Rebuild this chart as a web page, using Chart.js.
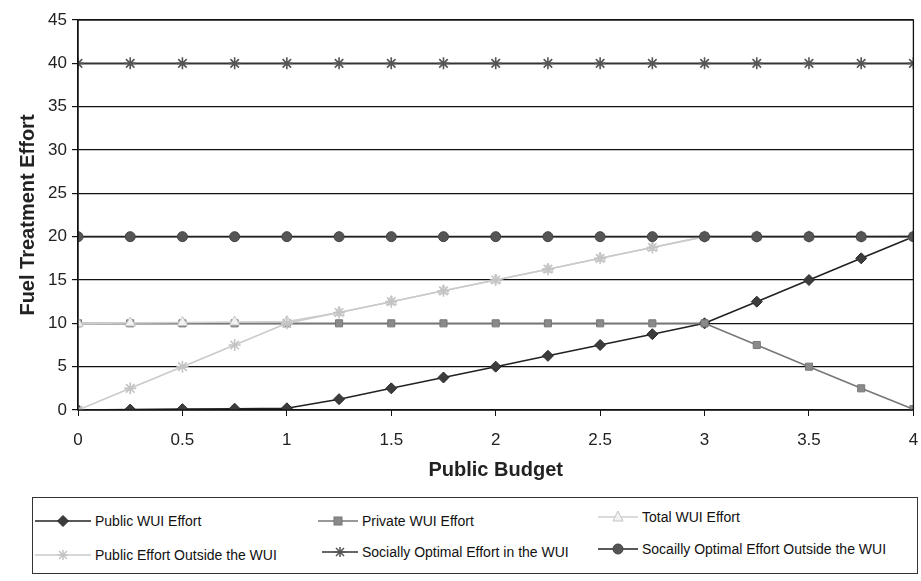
<!DOCTYPE html>
<html>
<head>
<meta charset="utf-8">
<script src="https://cdn.jsdelivr.net/npm/chart.js@4/dist/chart.umd.min.js"></script>
<style>
  html, body { margin: 0; padding: 0; background: #fff; }
  #wrap { position: relative; width: 921px; height: 581px; font-family: "Liberation Sans", Arial, sans-serif; }
  #chartBox { position: absolute; left: 0; top: 0; width: 921px; height: 490px; }
  #legend { position: absolute; left: 32px; top: 497px; width: 886px; height: 77px; border: 1px solid #333; box-sizing: border-box; }
  .item { position: absolute; display: flex; align-items: center; font-size: 14px; color: #111; white-space: nowrap; }
  .item svg { margin-right: 4px; }
</style>
</head>
<body>
<div id="wrap">
  <div id="chartBox"><canvas id="chart"></canvas></div>
  <div id="legend"></div>
</div>
<script>
// Public budget (x) and effort series
var budget         = [0, 0.25, 0.5, 0.75, 1, 1.25, 1.5, 1.75, 2, 2.25, 2.5, 2.75, 3, 3.25, 3.5, 3.75, 4];
var publicWUI      = [0, 0.05, 0.1, 0.15, 0.2, 1.25, 2.5, 3.75, 5, 6.25, 7.5, 8.75, 10, 12.5, 15, 17.5, 20];
var privateWUI     = [10, 10, 10, 10, 10, 10, 10, 10, 10, 10, 10, 10, 10, 7.5, 5, 2.5, 0.1];
var totalWUI       = [10, 10.05, 10.1, 10.15, 10.2, 11.25, 12.5, 13.75, 15, 16.25, 17.5, 18.75, 20, 20, 20, 20, 20.1];
var publicOutside  = [0, 2.5, 5, 7.5, 10, 11.25, 12.5, 13.75, 15, 16.25, 17.5, 18.75, 20, 20, 20, 20, 20];
var socialWUI      = [40, 40, 40, 40, 40, 40, 40, 40, 40, 40, 40, 40, 40, 40, 40, 40, 40];
var socialOutside  = [20, 20, 20, 20, 20, 20, 20, 20, 20, 20, 20, 20, 20, 20, 20, 20, 20];

var seriesNames = ['Public WUI Effort', 'Private WUI Effort', 'Total WUI Effort',
  'Public Effort Outside the WUI', 'Socially Optimal Effort in the WUI', 'Socailly Optimal Effort Outside the WUI'];

function pts(vals) {
  return vals.map(function(v, i) { return { x: budget[i], y: v }; });
}

// Excel draws later series on top, so give earlier ones a higher order
var styles = [
  { data: publicWUI,     line: '#222', fill: '#3c3c3c', border: '#2a2a2a', shape: 'rectRot',  r: 5.5 },
  { data: privateWUI,    line: '#777', fill: '#8a8a8a', border: '#777',    shape: 'rect',     r: 5 },
  { data: totalWUI,      line: '#cfcfcf', fill: '#f2f2f2', border: '#c4c4c4', shape: 'triangle', r: 6 },
  { data: publicOutside, line: '#cacaca', fill: '#c8c8c8', border: '#c4c4c4', shape: 'star',  r: 6 },
  { data: socialWUI,     line: '#333', fill: '#555', border: '#555',    shape: 'star',     r: 6 },
  { data: socialOutside, line: '#222', fill: '#555', border: '#444',    shape: 'circle',   r: 5 }
];

var datasets = styles.map(function(s, i) {
  return {
    label: seriesNames[i],
    data: pts(s.data),
    borderColor: s.line,
    borderWidth: 1.6,
    pointStyle: s.shape,
    pointRadius: s.r,
    pointBackgroundColor: s.fill,
    pointBorderColor: s.border,
    pointBorderWidth: s.shape === 'star' ? 1.6 : 1,
    tension: 0,
    order: 6 - i
  };
});

var frame = {
  id: 'frame',
  afterDraw: function(chart) {
    var a = chart.chartArea, ctx = chart.ctx;
    ctx.save();
    ctx.strokeStyle = '#111';
    ctx.lineWidth = 1.3;
    ctx.strokeRect(a.left, a.top, a.right - a.left, a.bottom - a.top);
    ctx.restore();
  }
};

new Chart(document.getElementById('chart'), {
  type: 'line',
  data: { datasets: datasets },
  options: {
    responsive: true,
    maintainAspectRatio: false,
    animation: false,
    layout: { padding: { left: 12, right: 4, top: 20, bottom: 0 } },
    plugins: { legend: { display: false }, tooltip: { enabled: false } },
    scales: {
      x: {
        type: 'linear', min: 0, max: 4,
        afterFit: function(s) { s.height = 80; s.paddingLeft = 0; s.paddingRight = 0; },
        ticks: { stepSize: 0.5, padding: 14, color: '#222', font: { family: 'Liberation Sans', size: 17 },
                 callback: function(v) { return String(v); } },
        grid: { drawOnChartArea: false, color: '#111', tickLength: 6 },
        border: { color: '#111', width: 1.3 },
        title: { display: true, text: 'Public Budget', color: '#222', padding: { top: 4, bottom: 8 },
                 font: { family: 'Liberation Sans', size: 20, weight: 'bold' } }
      },
      y: {
        min: 0, max: 45,
        afterFit: function(s) { s.width = 66; s.paddingTop = 0; s.paddingBottom = 0; },
        ticks: { stepSize: 5, padding: 5, color: '#222', font: { family: 'Liberation Sans', size: 17 } },
        grid: { color: '#111', lineWidth: 1.2, tickLength: 6 },
        border: { color: '#111', width: 1.3 },
        title: { display: true, text: 'Fuel Treatment Effort', color: '#222', padding: 4,
                 font: { family: 'Liberation Sans', size: 20, weight: 'bold' } }
      }
    }
  },
  plugins: [frame]
});

// legend in three columns like the original figure
function marker(s) {
  var c = 28, m = 11, r = s.r;
  var f = 'fill="' + s.fill + '" stroke="' + s.border + '" stroke-width="1"';
  if (s.shape === 'rectRot') return '<polygon points="' + c + ',' + (m - r) + ' ' + (c + r) + ',' + m + ' ' + c + ',' + (m + r) + ' ' + (c - r) + ',' + m + '" ' + f + '/>';
  if (s.shape === 'rect') return '<rect x="' + (c - 4) + '" y="' + (m - 4) + '" width="8" height="8" ' + f + '/>';
  if (s.shape === 'triangle') return '<polygon points="' + c + ',' + (m - 6) + ' ' + (c + 5) + ',' + (m + 4) + ' ' + (c - 5) + ',' + (m + 4) + '" ' + f + '/>';
  if (s.shape === 'circle') return '<circle cx="' + c + '" cy="' + m + '" r="5" ' + f + '/>';
  var st = 'stroke="' + s.border + '" stroke-width="1.5"';
  return '<path d="M' + (c - 5) + ' ' + m + 'H' + (c + 5) + 'M' + c + ' ' + (m - 5) + 'V' + (m + 5) +
    'M' + (c - 4) + ' ' + (m - 4) + 'L' + (c + 4) + ' ' + (m + 4) + 'M' + (c + 4) + ' ' + (m - 4) + 'L' + (c - 4) + ' ' + (m + 4) + '" ' + st + '/>';
}

var legendPos = [[2, 12], [285, 12], [565, 8], [2, 46], [289, 43], [565, 40]];
var legendWidths = [56, 40, 40, 56, 36, 40];
var lg = document.getElementById('legend');
styles.forEach(function(s, i) {
  var w = legendWidths[i];
  var svg = '<svg width="' + w + '" height="22" viewBox="' + (28 - w / 2) + ' 0 ' + w + ' 22">' +
    '<line x1="' + (28 - w / 2) + '" y1="11" x2="' + (28 + w / 2) + '" y2="11" stroke="' + s.line + '" stroke-width="1.6"/>' +
    marker(s) + '</svg>';
  var d = document.createElement('div');
  d.className = 'item';
  d.style.left = legendPos[i][0] + 'px';
  d.style.top = legendPos[i][1] + 'px';
  d.innerHTML = svg + '<span>' + seriesNames[i] + '</span>';
  lg.appendChild(d);
});
</script>
</body>
</html>
